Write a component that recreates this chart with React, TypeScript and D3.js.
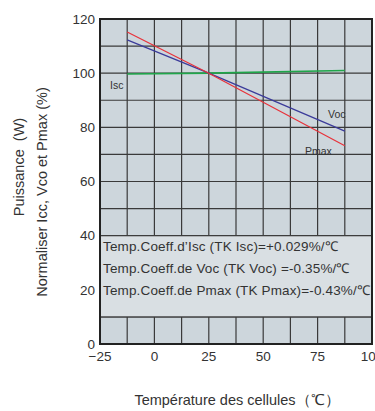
import React, { useEffect, useRef } from 'react';
import * as d3 from 'd3';

// temperature (°C) and normalised values (%)
const temps = [-12.5, 25, 87.5];
const isc = [99.7, 100, 101];
const voc = [112.3, 100, 78.6];
const pmax = [115.2, 100, 73.2];

const xTicks = [-25, 0, 25, 50, 75, 100];
const yTicks = [0, 20, 40, 60, 80, 100, 120];
const xGrid = [-12.5, 0, 12.5, 25, 37.5, 50, 62.5, 75, 87.5];
const yGrid = [10, 20, 30, 40, 50, 60, 70, 80, 90, 100, 110];

const coeffLines = [
  'Temp.Coeff.d\u2019Isc (TK Isc)=+0.029%/\u2103',
  'Temp.Coeff.de Voc (TK Voc) =-0.35%/\u2103',
  'Temp.Coeff.de Pmax (TK Pmax)=-0.43%/\u2103',
];

const W = 375;
const H = 411;
const FONT = '"Liberation Sans", Arial, sans-serif';

const App: React.FC = () => {
  const ref = useRef<SVGSVGElement>(null);

  useEffect(() => {
    const { current: svg } = ref;
    if (!svg) {
      return;
    }
    const root = d3.select(svg);
    root.selectAll('*').remove();

    const left = 100;
    const right = 372;
    const top = 19;
    const bottom = 344;

    const x = d3.scaleLinear().domain([-25, 100]).range([left, right]);
    const y = d3.scaleLinear().domain([0, 120]).range([bottom, top]);

    // plot background
    root
      .append('rect')
      .attr('x', left)
      .attr('y', top)
      .attr('width', right - left)
      .attr('height', bottom - top)
      .attr('fill', '#cdd6dc');

    const grid = root.append('g').attr('stroke', '#3a3a3a').attr('stroke-width', 1.2);
    grid
      .selectAll('line.v')
      .data(xGrid)
      .join('line')
      .attr('class', 'v')
      .attr('x1', (d) => x(d))
      .attr('x2', (d) => x(d))
      .attr('y1', top)
      .attr('y2', bottom);
    grid
      .selectAll('line.h')
      .data(yGrid)
      .join('line')
      .attr('class', 'h')
      .attr('x1', left)
      .attr('x2', right)
      .attr('y1', (d) => y(d))
      .attr('y2', (d) => y(d));

    // coefficient box, covers the grid between 10 and 40
    root
      .append('rect')
      .attr('x', left)
      .attr('y', y(40))
      .attr('width', right - left)
      .attr('height', y(10) - y(40))
      .attr('fill', '#d9dfe3')
      .attr('stroke', '#3a3a3a')
      .attr('stroke-width', 1.2);

    root
      .append('g')
      .selectAll('text')
      .data(coeffLines)
      .join('text')
      .attr('x', left + 3)
      .attr('y', (_, i) => y(40) + 15 + i * 22)
      .attr('font-family', FONT)
      .attr('font-size', 13.5)
      .attr('letter-spacing', 0.15)
      .attr('fill', '#333')
      .text((d) => d);

    // curves
    const line = d3
      .line<number>()
      .x((_, i) => x(temps[i]))
      .y((d) => y(d));
    const series = [
      { values: isc, color: '#1fa64a', width: 1.6 },
      { values: voc, color: '#3b3b9a', width: 1.3 },
      { values: pmax, color: '#e8323a', width: 1.2 },
    ];
    root
      .append('g')
      .selectAll('path')
      .data(series)
      .join('path')
      .attr('d', (d) => line(d.values))
      .attr('fill', 'none')
      .attr('stroke', (d) => d.color)
      .attr('stroke-width', (d) => d.width);

    const labels = root
      .append('g')
      .attr('font-family', FONT)
      .attr('font-size', 10.5)
      .attr('fill', '#333');
    labels.append('text').attr('x', 110).attr('y', 89).text('Isc');
    labels.append('text').attr('x', 328).attr('y', 118).text('Voc');
    labels.append('text').attr('x', 305).attr('y', 155).text('Pmax');

    // frame
    root
      .append('rect')
      .attr('x', left)
      .attr('y', top)
      .attr('width', right - left)
      .attr('height', bottom - top)
      .attr('fill', 'none')
      .attr('stroke', '#222')
      .attr('stroke-width', 2);

    // tick labels
    root
      .append('g')
      .selectAll('text')
      .data(yTicks)
      .join('text')
      .attr('x', left - 5)
      .attr('y', (d) => y(d))
      .attr('dy', '0.35em')
      .attr('text-anchor', 'end')
      .attr('font-family', FONT)
      .attr('font-size', 13.5)
      .attr('fill', '#333')
      .text((d) => d);

    root
      .append('g')
      .selectAll('text')
      .data(xTicks)
      .join('text')
      .attr('x', (d) => x(d))
      .attr('y', bottom + 17)
      .attr('text-anchor', 'middle')
      .attr('font-family', FONT)
      .attr('font-size', 13.5)
      .attr('fill', '#333')
      .text((d) => (d < 0 ? '\u2212' + Math.abs(d) : String(d)));

    // axis titles
    root
      .append('text')
      .attr('x', 237)
      .attr('y', 405)
      .attr('text-anchor', 'middle')
      .attr('font-family', FONT)
      .attr('font-size', 14.5)
      .attr('fill', '#333')
      .text('Température des cellules（\u2103）');

    root
      .append('text')
      .attr('transform', 'translate(24,167) rotate(-90)')
      .attr('text-anchor', 'middle')
      .attr('font-family', FONT)
      .attr('font-size', 14.5)
      .attr('fill', '#333')
      .style('white-space', 'pre')
      .text('Puissance  (W)');
    root
      .append('text')
      .attr('transform', 'translate(47,192) rotate(-90)')
      .attr('text-anchor', 'middle')
      .attr('font-family', FONT)
      .attr('font-size', 14.5)
      .attr('fill', '#333')
      .text('Normaliser Icc, Vco et Pmax (%)');
  }, []);

  return (
    <svg
      ref={ref}
      width={W}
      height={H}
      style={{ position: 'absolute', left: 0, top: 0, background: '#fff' }}
    />
  );
};

export default App;
